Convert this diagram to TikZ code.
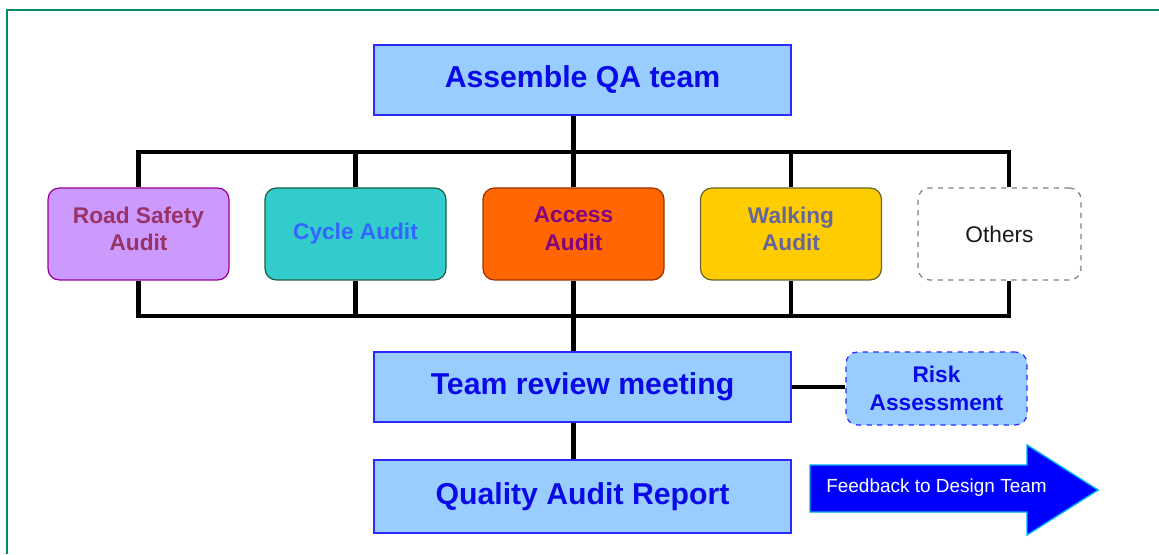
\documentclass[tikz,border=0pt]{standalone}
\usepackage{fontspec}
\setmainfont{Liberation Sans}

\definecolor{frame}{HTML}{00896B}
\definecolor{qafill}{HTML}{99CCFF}
\definecolor{qaline}{HTML}{2A2AFF}
\definecolor{qatext}{HTML}{0A0AE6}
\definecolor{roadfill}{HTML}{CC99FF}
\definecolor{roadline}{HTML}{990099}
\definecolor{roadtext}{HTML}{993366}
\definecolor{cyclefill}{HTML}{33CCCC}
\definecolor{cycleline}{HTML}{1F5F3F}
\definecolor{cycletext}{HTML}{3366FF}
\definecolor{accessfill}{HTML}{FF6600}
\definecolor{accessline}{HTML}{993300}
\definecolor{accesstext}{HTML}{800080}
\definecolor{walkfill}{HTML}{FFCC00}
\definecolor{walkline}{HTML}{666633}
\definecolor{walktext}{HTML}{666699}
\definecolor{othertext}{HTML}{1A1A1A}

\begin{document}
\begin{tikzpicture}[
  qabox/.style={draw=qaline, fill=qafill, line width=0.8pt, minimum width=8.34cm,
    text=qatext, font=\bfseries\fontsize{17.2}{20}\selectfont},
  audit/.style={rounded corners=6.5pt, line width=0.7pt, minimum width=3.62cm,
    minimum height=1.84cm, align=center, font=\bfseries\fontsize{12.9}{15.8}\selectfont},
  link/.style={line width=2.8pt, line join=miter}]
  \useasboundingbox (0,0) rectangle (23.18,11.08);
  \draw[frame, line width=1.1pt] (0.14,0) -- (0.14,10.88) -- (23.18,10.88);

  \node[qabox, minimum height=1.4cm] (assemble) at (11.65,9.48) {Assemble QA team};

  \node[audit, fill=roadfill, draw=roadline, text=roadtext] (road) at (2.77,6.4) {Road Safety\\Audit\\[-10pt]};
  \node[audit, fill=cyclefill, draw=cycleline, text=cycletext] (cycle) at (7.11,6.4) {Cycle Audit};
  \node[audit, fill=accessfill, draw=accessline, text=accesstext] (access) at (11.47,6.4) {Access\\Audit\\[-10pt]};
  \node[audit, fill=walkfill, draw=walkline, text=walktext] (walk) at (15.82,6.4) {Walking\\Audit\\[-10pt]};
  \node[audit, fill=white, draw=gray, dashed, minimum width=3.26cm, text=othertext,
    font=\fontsize{12.9}{15.3}\selectfont] (others) at (19.99,6.4) {Others};

  \node[qabox, minimum height=1.4cm] (review) at (11.65,3.34) {Team review meeting};
  \node[qabox, minimum height=1.46cm] (report) at (11.65,1.15) {Quality Audit Report};
  \node[audit, fill=qafill, draw=qaline, dashed, minimum height=1.46cm, text=qatext] (risk) at (18.73,3.31) {Risk\\Assessment};

  % feedback arrow
  \filldraw[fill=blue, draw=cyan, line width=0.8pt]
    (16.2,1.78) -- (20.54,1.78) -- (20.54,2.18) -- (21.96,1.28)
    -- (20.54,0.38) -- (20.54,0.84) -- (16.2,0.84) -- cycle;
  \node[text=white, font=\fontsize{10.8}{13}\selectfont] (feedback) at (18.73,1.32) {Feedback to Design Team};

  \coordinate (tb) at (0,8.04);
  \coordinate (bb) at (0,4.76);
  \coordinate (ox) at (20.18,0);
  \draw[link] (road.north) |- (ox |- tb) -- (ox |- others.north);
  \draw[link] (road.south) |- (ox |- bb) -- (ox |- others.south);
  \draw[link] (cycle.north) -- (cycle.north |- tb);
  \draw[link] (cycle.south) -- (cycle.south |- bb);
  \draw[link] (walk.north) -- (walk.north |- tb);
  \draw[link] (walk.south) -- (walk.south |- bb);
  \draw[link] (assemble.south -| access) -- (access.north);
  \draw[link] (access.south) -- (review.north -| access);
  \draw[link] (review.south -| access) -- (report.north -| access);
  \draw[link] (review.east) -- (review.east -| risk.west);
\end{tikzpicture}
\end{document}
